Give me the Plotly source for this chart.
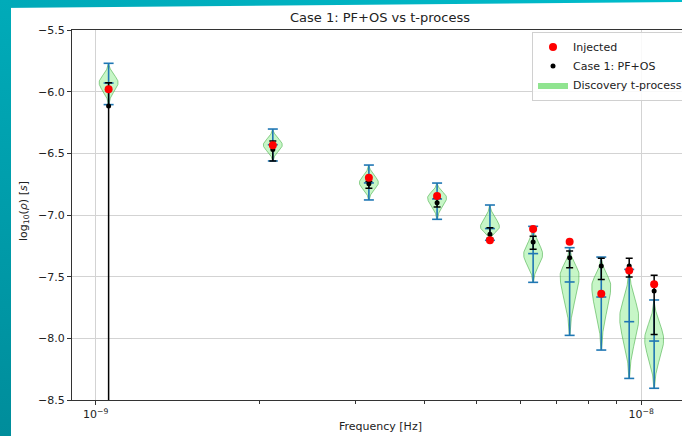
import base64
import numpy as np
import plotly.graph_objects as go

# ---------------- data ----------------
frequencies = [1.056e-9, 2.112e-9, 3.168e-9, 4.225e-9, 5.281e-9,
               6.337e-9, 7.393e-9, 8.449e-9, 9.506e-9, 1.0562e-8]

injected = [-5.981, -6.435, -6.697, -6.846, -7.205,
            -7.114, -7.216, -7.638, -7.449, -7.562]

case1_median = [-6.116, -6.468, -6.746, -6.900, -7.157,
                -7.219, -7.346, -7.414, -7.414, -7.616]
case1_upper = [-5.927, -6.400, -6.728, -6.865, -7.103,
               -7.173, -7.292, -7.351, -7.351, -7.489]
case1_lower = [-10.0, -6.562, -6.784, -6.935, -7.189,
               -7.278, -7.427, -7.522, -7.503, -7.968]

violin_max = [-5.770, -6.303, -6.595, -6.741, -6.919,
              -7.092, -7.265, -7.341, -7.441, -7.689]
violin_min = [-6.105, -6.562, -6.878, -7.035, -7.205,
              -7.546, -7.976, -8.095, -8.325, -8.405]
violin_median = [-5.930, -6.430, -6.740, -6.870, -7.110,
                 -7.313, -7.543, -7.665, -7.865, -8.022]
violin_mode = [-5.927, -6.432, -6.738, -6.860, -7.097,
               -7.320, -7.490, -7.576, -7.833, -8.008]

y_ticks = [-5.5, -6.0, -6.5, -7.0, -7.5, -8.0, -8.5]
x_major = [1e-9, 1e-8]
x_major_text = ["10<sup>−9</sup>", "10<sup>−8</sup>"]
x_minor = [2e-9, 3e-9, 4e-9, 5e-9, 6e-9, 7e-9, 8e-9, 9e-9]

# ---------------- layout geometry ----------------
W, H = 682, 436
L, R, T, B = 72, 0, 30, 36
PW, PH = W - L - R, H - T - B
DEC_PX = 545.5          # pixels per decade on x
X0_PX = 95.7            # pixel of 1e-9
xr = [-9 - (X0_PX - L) / DEC_PX, -9 + (W - R - X0_PX) / DEC_PX]

def px_to_paper_x(px):
    return (px - L) / PW

def py_to_paper_y(py):
    return (H - B - py) / PH

VIOLIN_HALF = 9.5 / DEC_PX   # decades
CAP_HALF = 5.0 / DEC_PX

FONT = "DejaVu Sans"
blue = "#1f77b4"

fig = go.Figure()

# ---------------- violins ----------------
for i, f in enumerate(frequencies):
    lf = np.log10(f)
    ys = np.linspace(violin_min[i], violin_max[i], 80)
    m = violin_mode[i]
    s_lo = max(m - violin_min[i], 1e-3) / 2.6
    s_hi = max(violin_max[i] - m, 1e-3) / 2.6
    sig = np.where(ys < m, s_lo, s_hi)
    w = VIOLIN_HALF * np.exp(-0.5 * ((ys - m) / sig) ** 2)
    xs = np.concatenate([10 ** (lf + w), 10 ** (lf - w[::-1])])
    yy = np.concatenate([ys, ys[::-1]])
    fig.add_trace(go.Scatter(
        x=xs, y=yy, mode="lines", fill="toself",
        fillcolor="rgba(144,238,144,0.5)",
        line=dict(color="rgba(60,170,60,0.55)", width=1),
        showlegend=False, hoverinfo="skip"))

# legend-only patch for the violins
fig.add_trace(go.Scatter(
    x=[None], y=[None], mode="lines", fill="toself",
    fillcolor="rgba(144,228,144,1)", line=dict(width=0, color="rgba(0,0,0,0)"),
    name="Discovery t-process", legendrank=3, hoverinfo="skip"))

# blue whiskers (min / max / median)
bx, by = [], []
for i, f in enumerate(frequencies):
    lf = np.log10(f)
    bx += [f, f, None]
    by += [violin_min[i], violin_max[i], None]
    for yv in (violin_min[i], violin_max[i], violin_median[i]):
        bx += [10 ** (lf - CAP_HALF), 10 ** (lf + CAP_HALF), None]
        by += [yv, yv, None]
fig.add_trace(go.Scatter(x=bx, y=by, mode="lines",
                         line=dict(color=blue, width=1.6),
                         showlegend=False, hoverinfo="skip"))

# ---------------- case 1 error bars ----------------
plus = [u - m for u, m in zip(case1_upper, case1_median)]
minus = [m - l for m, l in zip(case1_median, case1_lower)]
fig.add_trace(go.Scatter(
    x=frequencies, y=case1_median, mode="markers",
    marker=dict(color="black", size=5),
    error_y=dict(type="data", symmetric=False, array=plus, arrayminus=minus,
                 color="black", thickness=1.5, width=3.5),
    name="Case 1: PF+OS", legendrank=2))

# ---------------- injected ----------------
fig.add_trace(go.Scatter(
    x=frequencies, y=injected, mode="markers",
    marker=dict(color="red", size=8),
    name="Injected", legendrank=1))

# ---------------- background frame (teal strips) ----------------
svg = (
    f'<svg xmlns="http://www.w3.org/2000/svg" width="{W}" height="{H}" '
    f'viewBox="0 0 {W} {H}" preserveAspectRatio="none">'
    '<defs>'
    '<linearGradient id="l" x1="0" y1="0" x2="0" y2="1">'
    '<stop offset="0" stop-color="#00abb9"/><stop offset="1" stop-color="#008d9b"/>'
    '</linearGradient>'
    '<linearGradient id="t" x1="0" y1="0" x2="1" y2="0">'
    '<stop offset="0" stop-color="#00a9b8"/><stop offset="1" stop-color="#00bccb"/>'
    '</linearGradient>'
    '</defs>'
    f'<rect width="{W}" height="{H}" fill="white"/>'
    f'<polygon points="0,0 {W},0 {W},2 0,8" fill="url(#t)"/>'
    f'<rect x="0" y="0" width="11" height="{H}" fill="url(#l)"/>'
    '</svg>'
)
src = "data:image/svg+xml;base64," + base64.b64encode(svg.encode()).decode()

fig.add_layout_image(dict(
    source=src, xref="paper", yref="paper",
    x=px_to_paper_x(0), y=py_to_paper_y(0),
    sizex=W / PW, sizey=H / PH,
    xanchor="left", yanchor="top", sizing="stretch", layer="below"))

# ---------------- axes ----------------
fig.update_xaxes(
    type="log", range=xr,
    tickvals=x_major, ticktext=x_major_text,
    ticks="outside", ticklen=4, tickwidth=1, tickcolor="#333",
    showgrid=True, gridcolor="#d3d3d3", gridwidth=1,
    showline=True, linecolor="#333", linewidth=1, mirror=True,
    zeroline=False,
    tickfont=dict(family=FONT, size=11, color="#222"),
    minor=dict(tickvals=x_minor, ticks="outside", ticklen=2.5,
               tickcolor="#333", showgrid=False),
)
fig.update_yaxes(
    range=[-8.5, -5.5], tickvals=y_ticks,
    ticks="outside", ticklen=4, tickwidth=1, tickcolor="#333",
    showgrid=True, gridcolor="#d3d3d3", gridwidth=1,
    showline=True, linecolor="#333", linewidth=1, mirror=False,
    zeroline=False, tickformat=".1f",
    tickfont=dict(family=FONT, size=11, color="#222"),
)

fig.add_annotation(text="Frequency [Hz]", xref="paper", yref="paper",
                   x=px_to_paper_x(380), y=py_to_paper_y(426),
                   showarrow=False, xanchor="center", yanchor="middle",
                   font=dict(family=FONT, size=11, color="#222"))
fig.add_annotation(text="log<sub>10</sub>(<i>ρ</i>) [<i>s</i>]",
                   xref="paper", yref="paper",
                   x=px_to_paper_x(24), y=py_to_paper_y(211),
                   showarrow=False, xanchor="center", yanchor="middle",
                   textangle=-90,
                   font=dict(family=FONT, size=11, color="#222"))

fig.update_layout(
    width=W, height=H,
    margin=dict(l=L, r=R, t=T, b=B, autoexpand=False),
    paper_bgcolor="white", plot_bgcolor="rgba(0,0,0,0)",
    title=dict(text="Case 1: PF+OS vs t-process", x=380 / W, xref="container",
               xanchor="center", y=1 - 17 / H, yref="container", yanchor="middle",
               font=dict(family=FONT, size=13, color="#222")),
    legend=dict(x=px_to_paper_x(532), y=py_to_paper_y(31.5),
                xanchor="left", yanchor="top",
                bgcolor="rgba(255,255,255,0.85)", bordercolor="#d0d0d0",
                borderwidth=1, font=dict(family=FONT, size=11, color="#222"),
                tracegroupgap=0),
    font=dict(family=FONT),
    showlegend=True,
)

fig.write_html("out.html")
